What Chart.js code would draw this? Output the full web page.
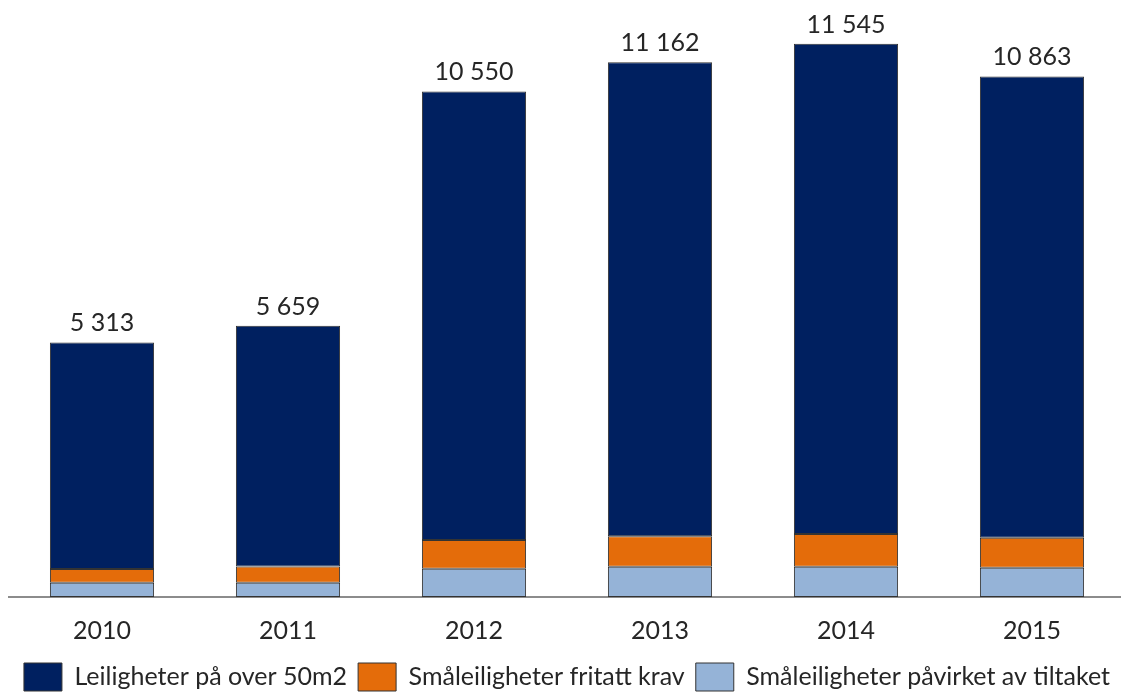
<!DOCTYPE html>
<html>
<head>
<meta charset="utf-8">
<script src="https://cdn.jsdelivr.net/npm/chart.js@4.4.1/dist/chart.umd.min.js"></script>
<style>
  html, body { margin: 0; padding: 0; background: #fff; overflow: hidden; }
  #wrap { position: relative; width: 1130px; height: 701px; }
</style>
</head>
<body>
<div id="wrap"><canvas id="chart"></canvas></div>
<script>
const years = ["2010", "2011", "2012", "2013", "2014", "2015"];
const totals = [5313, 5659, 10550, 11162, 11545, 10863];
const smallAffected = [299, 299, 591, 633, 633, 612];
const smallExempt = [286, 340, 599, 633, 683, 626];
const largeFlats = [4728, 5020, 9360, 9896, 10229, 9625];

const FONT = "Lato, 'DejaVu Sans', sans-serif";
const TEXT = "#262626";

// draws the total above each stacked bar
const totalLabels = {
  id: "totalLabels",
  afterDatasetsDraw(chart) {
    const ctx = chart.ctx;
    const meta = chart.getDatasetMeta(chart.data.datasets.length - 1);
    ctx.save();
    ctx.font = "25px " + FONT;
    ctx.fillStyle = TEXT;
    ctx.textAlign = "center";
    ctx.textBaseline = "alphabetic";
    meta.data.forEach((bar, i) => {
      const txt = totals[i].toLocaleString("en-US").replace(/,/g, " ");
      ctx.fillText(txt, bar.x, bar.y - 11);
    });
    ctx.restore();
  },
};

new Chart(document.getElementById("chart"), {
  type: "bar",
  data: {
    labels: years,
    datasets: [
      {
        label: "Småleiligheter påvirket av tiltaket",
        data: smallAffected,
        backgroundColor: "#95B3D7",
        borderColor: "#333333",
        borderWidth: 1,
        borderSkipped: false,
      },
      {
        label: "Småleiligheter fritatt krav",
        data: smallExempt,
        backgroundColor: "#E46C0A",
        borderColor: "#333333",
        borderWidth: 1,
        borderSkipped: false,
      },
      {
        label: "Leiligheter på over 50m2",
        data: largeFlats,
        backgroundColor: "#002060",
        borderColor: "#333333",
        borderWidth: 1,
        borderSkipped: false,
      },
    ],
  },
  options: {
    responsive: true,
    maintainAspectRatio: false,
    animation: false,
    datasets: {
      bar: { barPercentage: 0.56, categoryPercentage: 1 },
    },
    layout: { padding: { top: 22, left: 9, right: 5, bottom: 0 } },
    plugins: {
      tooltip: { enabled: false },
      legend: {
        position: "bottom",
        reverse: true,
        labels: {
          boxWidth: 38,
          boxHeight: 28,
          padding: 11,
          color: TEXT,
          font: { family: FONT, size: 25 },
        },
      },
    },
    scales: {
      x: {
        stacked: true,
        grid: { display: false, drawTicks: false },
        border: { color: "#8c8c8c", width: 2 },
        ticks: { color: TEXT, font: { family: FONT, size: 25 }, padding: 19 },
        afterFit: (scale) => { scale.height -= 13; },
      },
      y: {
        stacked: true,
        display: false,
        min: 0,
        max: 12000,
      },
    },
  },
  plugins: [totalLabels],
});
</script>
</body>
</html>
